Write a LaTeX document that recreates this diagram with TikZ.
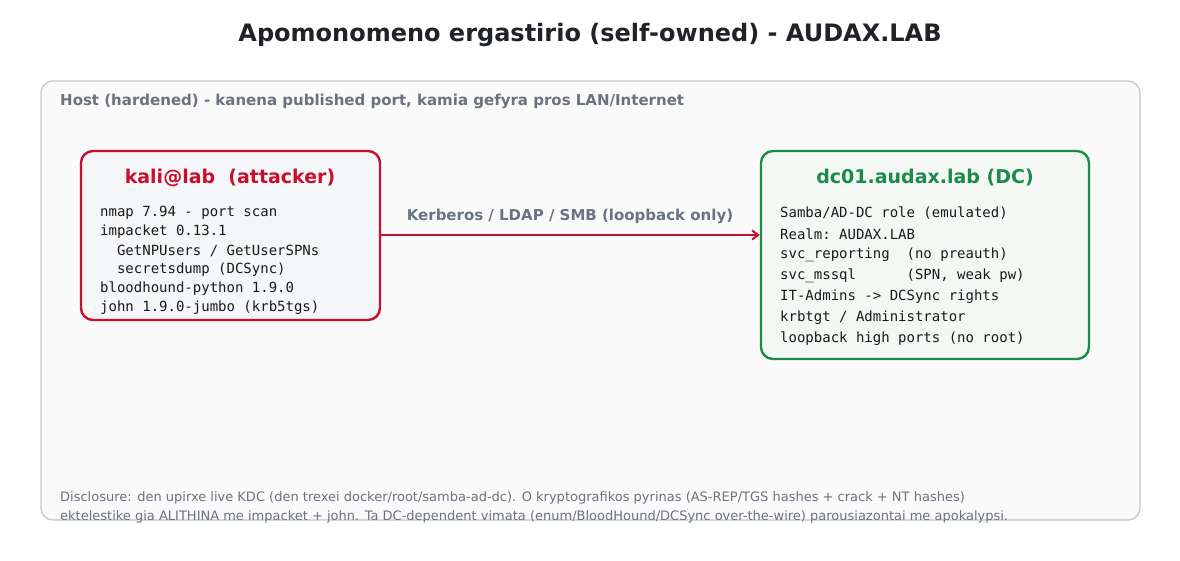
\documentclass[tikz,border=0pt]{standalone}
\usepackage{fontspec}
\setmainfont{DejaVu Sans}
\setmonofont{DejaVu Sans Mono}
\usetikzlibrary{arrows.meta}
\definecolor{titlec}{HTML}{1F2328}
\definecolor{grayt}{HTML}{6B7280}
\definecolor{hostbd}{HTML}{C4C8CC}
\definecolor{hostbg}{HTML}{FAFAFA}
\definecolor{redc}{HTML}{C8102E}
\definecolor{redbg}{HTML}{F4F6F8}
\definecolor{greenc}{HTML}{1E8A4A}
\definecolor{greenbg}{HTML}{F3F8F4}
\definecolor{codec}{HTML}{1A1A1A}
\tikzset{
  hostbox/.style={draw=hostbd, fill=hostbg, line width=1.3pt, rounded corners=12pt},
  redbox/.style={draw=redc, fill=redbg, line width=2.4pt, rounded corners=12pt},
  greenbox/.style={draw=greenc, fill=greenbg, line width=2.4pt, rounded corners=12pt},
  boxtitle/.style={font=\fontsize{19}{22}\selectfont\bfseries, anchor=center, inner sep=0pt},
  codeline/.style={font=\fontsize{14}{16}\ttfamily, text=codec, anchor=west, inner sep=0pt},
  lbl/.style={font=\fontsize{15}{18}\selectfont\bfseries, text=grayt, inner sep=0pt},
  disc/.style={font=\fontsize{13}{15}\selectfont, text=grayt, anchor=west, inner sep=0pt},
  flow/.style={draw=redc, line width=2pt, -{Straight Barb[length=6pt,width=9pt]}}
}
\begin{document}
\begin{tikzpicture}[x=1pt,y=-1pt]
\useasboundingbox (0,0) rectangle (1180,560);
\fill[white] (0,0) rectangle (1180,560);
\node[font=\fontsize{24}{28}\selectfont\bfseries, text=titlec, inner sep=0pt] (title) at (590,35) {Apomonomeno ergastirio (self-owned) - AUDAX.LAB};
\draw[hostbox] (41,81) rectangle (1140,520);
\node[lbl, anchor=west] (hostlbl) at (60,101) {Host (hardened) - kanena published port, kamia gefyra pros LAN/Internet};
% kali
\node[redbox, minimum width=299pt, minimum height=169pt, inner sep=0pt] (kali) at (230.5,235.5) {};
\node[boxtitle, text=redc] (kalit) at (230,178) {kali@lab\ \ (attacker)};
\node[codeline] (k1) at (100,213) {nmap 7.94 - port scan};
\node[codeline] (k2) at (100,232) {impacket 0.13.1};
\node[codeline] (k3) at (100,251) {\ \ GetNPUsers / GetUserSPNs};
\node[codeline] (k4) at (100,270) {\ \ secretsdump (DCSync)};
\node[codeline] (k5) at (100,289) {bloodhound-python 1.9.0};
\node[codeline] (k6) at (100,308) {john 1.9.0-jumbo (krb5tgs)};
% dc
\node[greenbox, minimum width=328pt, minimum height=208pt, inner sep=0pt] (dc) at (925,255) {};
\node[boxtitle, text=greenc] (dct) at (925,178) {dc01.audax.lab (DC)};
\node[codeline] (d1) at (780,213) {Samba/AD-DC role (emulated)};
\node[codeline] (d2) at (780,234) {Realm: AUDAX.LAB};
\node[codeline] (d3) at (780,255) {svc\_reporting\ \ (no preauth)};
\node[codeline] (d4) at (780,276) {svc\_mssql\ \ \ \ \ \ (SPN, weak pw)};
\node[codeline] (d5) at (780,297) {IT-Admins -> DCSync rights};
\node[codeline] (d6) at (780,318) {krbtgt / Administrator};
\node[codeline] (d7) at (780,339) {loopback high ports (no root)};
% arrow
\coordinate (aS) at (kali.east |- 0,235);
\coordinate (aE) at (dc.west |- 0,235);
\draw[flow] (aS) -- (aE);
\node[lbl] (arrlbl) at (570,216) {Kerberos / LDAP / SMB (loopback only)};
% disclosure
\node[disc] (disc1) at (60,498) {Disclosure: den upirxe live KDC (den trexei docker/root/samba-ad-dc). O kryptografikos pyrinas (AS-REP/TGS hashes + crack + NT hashes)};
\node[disc] (disc2) at (60,517) {ektelestike gia ALITHINA me impacket + john. Ta DC-dependent vimata (enum/BloodHound/DCSync over-the-wire) parousiazontai me apokalypsi.};
\end{tikzpicture}
\end{document}
